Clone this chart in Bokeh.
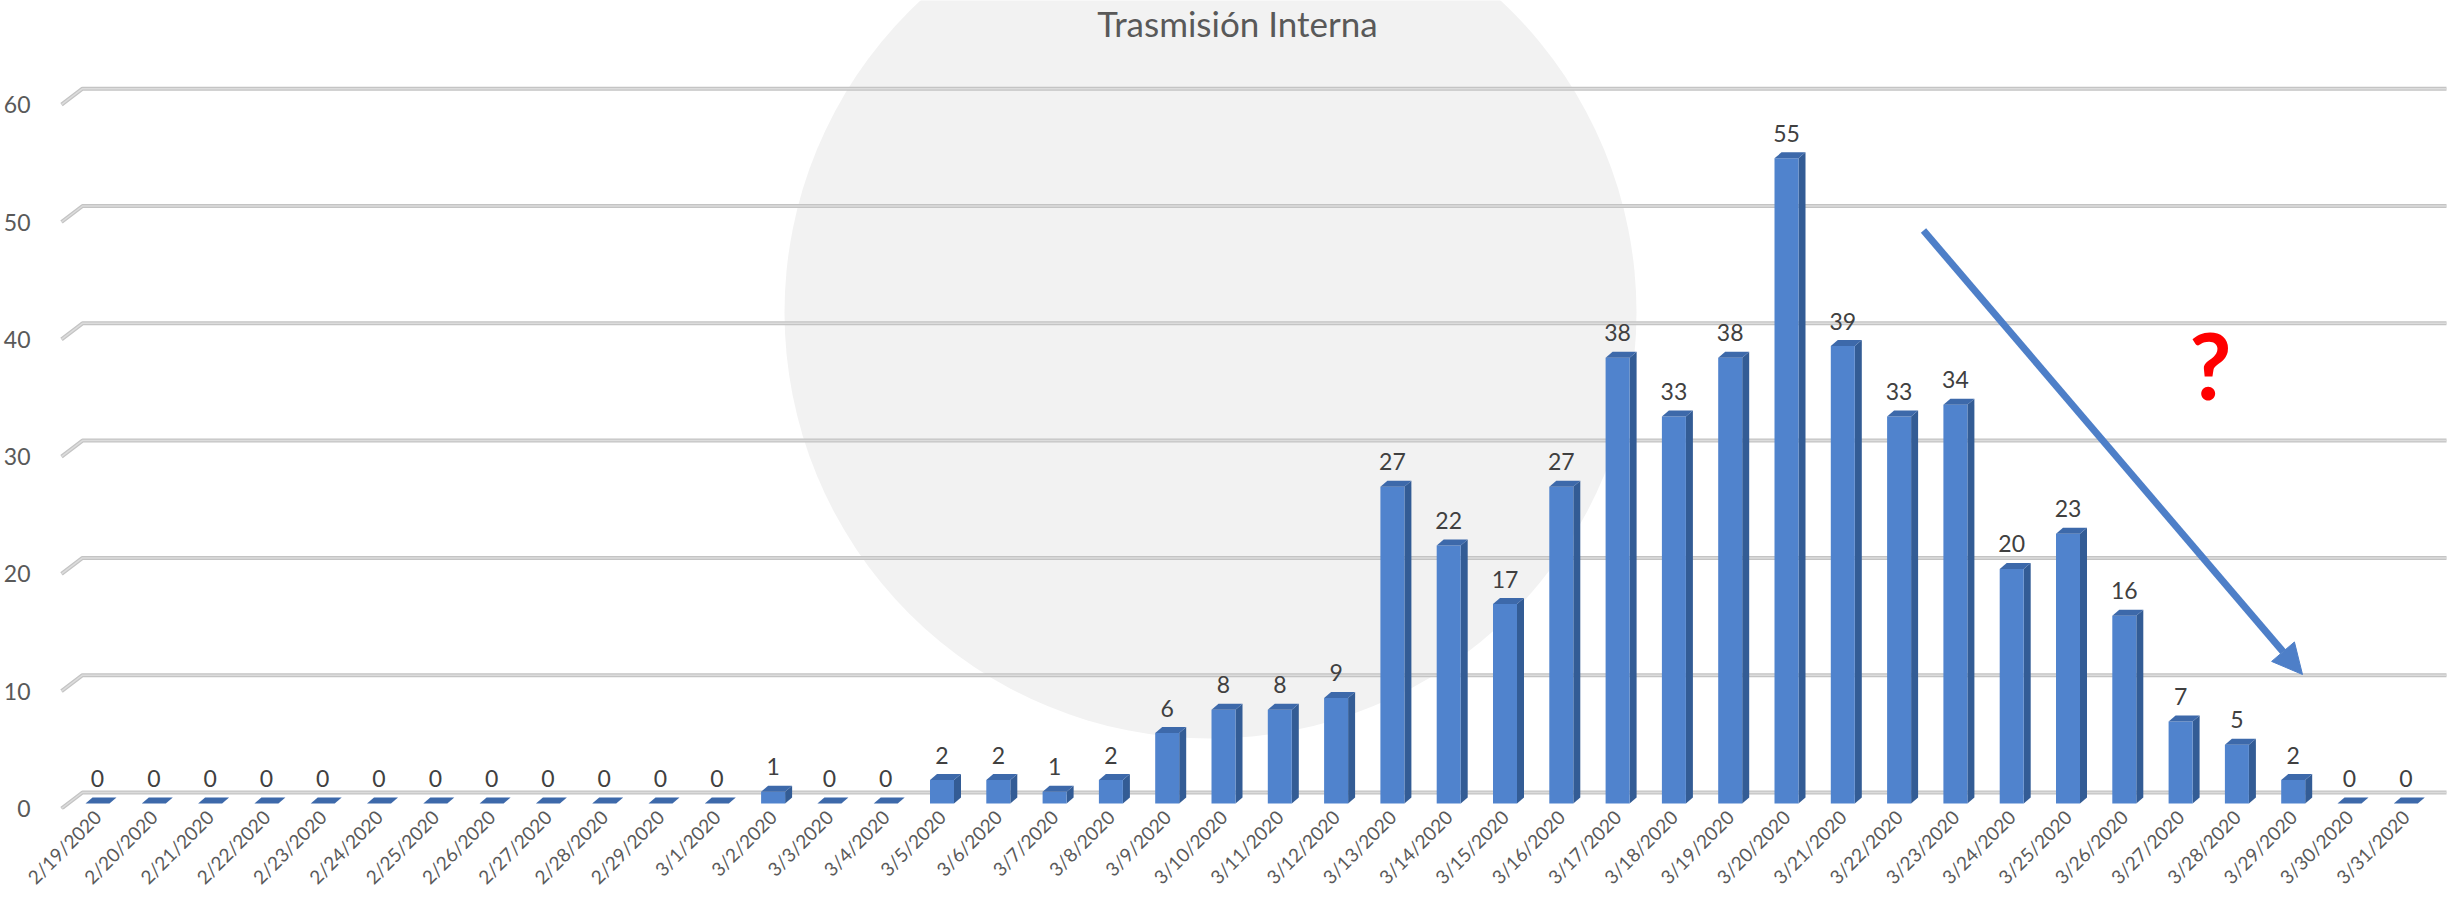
from math import pi

from bokeh.core.properties import value
from bokeh.embed import file_html
from bokeh.models import Arrow, ColumnDataSource, FixedTicker, Label, NormalHead, Range1d
from bokeh.plotting import figure
from bokeh.resources import INLINE

# ---- data -------------------------------------------------------------
dates = [
    "2/19/2020", "2/20/2020", "2/21/2020", "2/22/2020", "2/23/2020", "2/24/2020",
    "2/25/2020", "2/26/2020", "2/27/2020", "2/28/2020", "2/29/2020", "3/1/2020",
    "3/2/2020", "3/3/2020", "3/4/2020", "3/5/2020", "3/6/2020", "3/7/2020",
    "3/8/2020", "3/9/2020", "3/10/2020", "3/11/2020", "3/12/2020", "3/13/2020",
    "3/14/2020", "3/15/2020", "3/16/2020", "3/17/2020", "3/18/2020", "3/19/2020",
    "3/20/2020", "3/21/2020", "3/22/2020", "3/23/2020", "3/24/2020", "3/25/2020",
    "3/26/2020", "3/27/2020", "3/28/2020", "3/29/2020", "3/30/2020", "3/31/2020",
]
cases = [
    0, 0, 0, 0, 0, 0, 0, 0, 0, 0, 0, 0,
    1, 0, 0, 2, 2, 1, 2, 6, 8, 8, 9, 27,
    22, 17, 27, 38, 33, 38, 55, 39, 33, 34, 20, 23,
    16, 7, 5, 2, 0, 0,
]
y_ticks = [0, 10, 20, 30, 40, 50, 60]
title_text = "Trasmisión Interna"

# ---- geometry (pixels) ------------------------------------------------
W, H = 2461, 902
BORDER_L, BORDER_B = 45, 93
PX_X = 56.3      # pixels per category
PX_Y = 11.73     # pixels per case
X0_PX = 97       # canvas x of the first column's centre
Y0_PX = 808      # canvas y of value 0 on the front floor edge


def dx(px):
    return (px - X0_PX) / PX_X


def dy(py):
    return (Y0_PX - py) / PX_Y


BAR_W = 24 / PX_X
DEPTH_X = 7 / PX_X
DEPTH_Y = 6 / PX_Y
BASE = 5 / PX_Y
WALL_DX = 21 / PX_X
WALL_DY = 16 / PX_Y
LABEL_GAP = 19 / PX_Y

FONT = value("Lato")

p = figure(
    width=W, height=H,
    x_range=Range1d(dx(BORDER_L), dx(W)),
    y_range=Range1d(dy(H - BORDER_B), dy(0)),
    output_backend="svg", toolbar_location=None,
    min_border_left=BORDER_L, min_border_right=0,
    min_border_top=0, min_border_bottom=BORDER_B,
)
p.outline_line_color = None
p.xgrid.visible = False
p.ygrid.visible = False
p.background_fill_color = "white"
p.border_fill_color = "white"

# soft grey disc behind the plot
p.ellipse(x=dx(1210), y=dy(312), width=852, height=852,
          width_units="screen", height_units="screen",
          fill_color="#F2F2F2", line_color=None)

# back-wall gridlines with their short floor diagonal
x_left = dx(61)
x_wall = x_left + WALL_DX
x_right = dx(2446)
g_xs = [[x_left, x_wall, x_right] for _ in y_ticks]
g_ys = [[v, v + WALL_DY, v + WALL_DY] for v in y_ticks]
p.multi_line(g_xs, g_ys, line_color="#C4C4C4", line_width=4)
p.multi_line(g_xs, g_ys, line_color="#DCDCDC", line_width=1.5)

# 3-D columns: front, side and top faces
idx = list(range(len(cases)))
front = ColumnDataSource(dict(
    left=[i - BAR_W / 2 for i in idx],
    right=[i + BAR_W / 2 for i in idx],
    bottom=[BASE for _ in idx],
    top=[BASE + v for v in cases],
))
side_xs, side_ys, top_xs, top_ys = [], [], [], []
for i, v in zip(idx, cases):
    l, r = i - BAR_W / 2, i + BAR_W / 2
    t = BASE + v
    side_xs.append([r, r + DEPTH_X, r + DEPTH_X, r])
    side_ys.append([BASE, BASE + DEPTH_Y, t + DEPTH_Y, t])
    top_xs.append([l, r, r + DEPTH_X, l + DEPTH_X])
    top_ys.append([t, t, t + DEPTH_Y, t + DEPTH_Y])

p.patches(side_xs, side_ys, fill_color="#335C95", line_color=None)
p.quad(source=front, left="left", right="right", bottom="bottom", top="top",
       fill_color="#5083CD", line_color=None)
p.patches(top_xs, top_ys, fill_color="#3D69AA", line_color=None)

# value labels
labels = ColumnDataSource(dict(
    x=idx,
    y=[BASE + v + DEPTH_Y + LABEL_GAP for v in cases],
    text=[str(v) for v in cases],
))
p.text(x="x", y="y", text="text", source=labels, text_font=FONT,
       text_font_size="23px", text_color="#404040",
       text_align="center", text_baseline="alphabetic")

# axes
p.xaxis.ticker = FixedTicker(ticks=idx)
p.xaxis.major_label_overrides = {i: d for i, d in zip(idx, dates)}
p.xaxis.major_label_orientation = pi / 4
p.xaxis.major_label_text_font = "Lato"
p.xaxis.major_label_text_font_size = "19px"
p.xaxis.major_label_text_color = "#595959"
p.xaxis.major_label_standoff = 4
p.xaxis.axis_line_color = None
p.xaxis.major_tick_line_color = None
p.xaxis.minor_tick_line_color = None
p.xaxis.major_tick_out = 0
p.xaxis.major_tick_in = 0

p.yaxis.ticker = FixedTicker(ticks=y_ticks)
p.yaxis.major_label_text_font = "Lato"
p.yaxis.major_label_text_font_size = "23px"
p.yaxis.major_label_text_color = "#595959"
p.yaxis.major_label_standoff = 9
p.yaxis.axis_line_color = None
p.yaxis.major_tick_line_color = None
p.yaxis.minor_tick_line_color = None

# downward trend arrow and question mark
p.add_layout(Arrow(
    end=NormalHead(size=30, fill_color="#4E7FC8", line_color="#4E7FC8"),
    x_start=dx(1923), y_start=dy(230), x_end=dx(2302), y_end=dy(674),
    line_color="#4E7FC8", line_width=7,
))
p.add_layout(Label(
    x=dx(2210), y=dy(364), text="?", text_font="Lato", text_font_style="bold",
    text_font_size="92px", text_color="#FF0000", text_align="center",
    text_baseline="alphabetic",
))

# title
p.add_layout(Label(
    x=dx(1237), y=dy(22), text=title_text, text_font="Lato",
    text_font_size="35px", text_color="#595959", text_align="center",
    text_baseline="alphabetic",
))

open("out.html", "w").write(file_html(p, INLINE))
